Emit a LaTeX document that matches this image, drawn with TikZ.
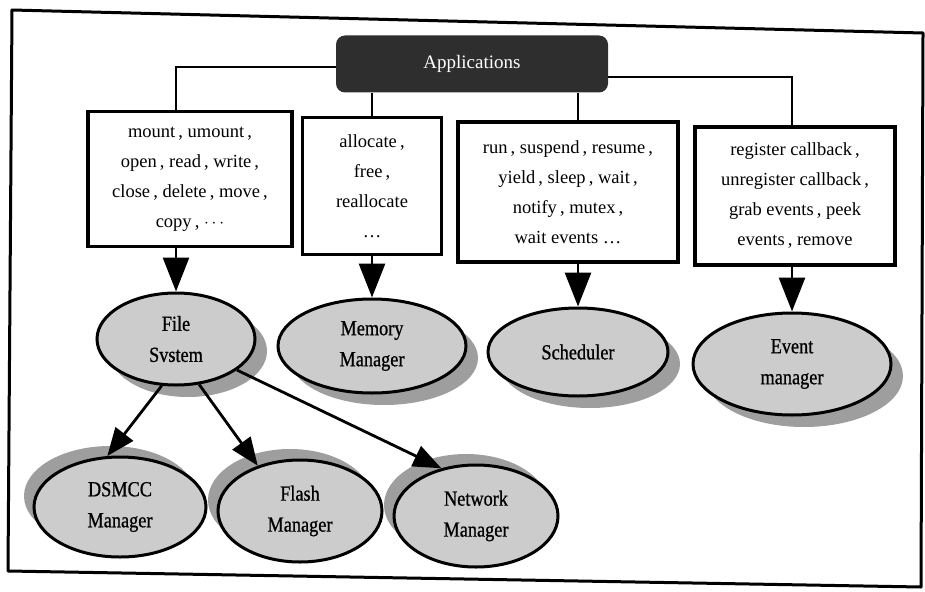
\documentclass[tikz,border=0pt]{standalone}
\usepackage{fontspec}
\setmainfont{Liberation Serif}
\newfontfamily\ovalfont[FakeStretch=0.85,FakeBold=0.7]{Liberation Serif}
\usetikzlibrary{shapes.geometric,arrows.meta,shadows}

\begin{document}
\begin{tikzpicture}[x=1pt,y=-1pt,
  conn/.style={line width=2.8pt},
  arr/.style={line width=2.8pt,-{Triangle[width=26pt,length=34pt]}},
  arrs/.style={line width=2.8pt,-{Triangle[width=22pt,length=28pt]}},
  appbox/.style={rounded corners=9pt,fill=black!82,text=white,
    minimum width=272pt,minimum height=57pt,inner sep=0pt,
    font=\fontsize{19}{22}\selectfont},
  opbox/.style={draw,line width=3.4pt,fill=white,align=center,inner sep=0pt,
    font=\fontsize{18.5}{30}\selectfont},
  oval/.style={ellipse,draw,line width=3pt,fill=black!20,inner sep=0pt,
    align=center,font=\ovalfont\fontsize{21.5}{31}\selectfont},
  shadowdown/.style={drop shadow={shadow xshift=12pt,shadow yshift=-12pt,
    fill=black!38,opacity=1}},
  shadowup/.style={drop shadow={shadow xshift=-10pt,shadow yshift=11pt,
    fill=black!38,opacity=1}},
  framestyle/.style={line width=3pt,line join=round}
]
\useasboundingbox (0,0) rectangle (925,591);

% outer frame
\coordinate (f1) at (12,10);
\coordinate (f2) at (923,33);
\coordinate (f3) at (921,587);
\coordinate (f4) at (8,571);
\draw[framestyle] (f1) -- (f2) -- (f3) -- (f4) -- cycle;

% top application node
\node[appbox] (app) at (472,64) {Applications};

% interface boxes
\node[opbox,minimum width=204pt,minimum height=135pt] (b1) at (190,179)
  {mount\,, umount\,,\\open\,, read\,, write\,,\\close\,, delete\,, move\,,\\copy\,, $\cdots$};
\node[opbox,minimum width=139pt,minimum height=137pt] (b2) at (372,186)
  {allocate\,,\\free\,,\\reallocate\\\dots};
\node[opbox,minimum width=220pt,minimum height=140pt] (b3) at (568,192)
  {run\,, suspend\,, resume\,,\\yield\,, sleep\,, wait\,,\\notify\,, mutex\,,\\wait events \dots};
\node[opbox,minimum width=200pt,minimum height=138pt] (b4) at (795,196)
  {register callback\,,\\unregister callback\,,\\grab events\,, peek\\events\,, remove};

% service modules
\node[oval,shadowdown,minimum width=158pt,minimum height=92pt] (fs) at (176,339) {File\\Svstem};
\node[oval,shadowdown,minimum width=188pt,minimum height=94pt] (mem) at (372,346) {Memory\\Manager};
\node[oval,shadowdown,minimum width=180pt,minimum height=88pt] (sch) at (578,352) {Scheduler};
\node[oval,shadowdown,minimum width=198pt,minimum height=102pt] (ev) at (792,364) {Event\\manager};

% file system back ends
\node[oval,shadowup,minimum width=172pt,minimum height=100pt] (dsm) at (120,507) {DSMCC\\Manager};
\node[oval,shadowup,minimum width=164pt,minimum height=102pt] (fl) at (300,511) {Flash\\Manager};
\node[oval,shadowup,minimum width=164pt,minimum height=102pt] (net) at (476,516) {Network\\Manager};

% bus from applications to the interface boxes
\draw[conn] ([yshift=-3pt]app.west) -| (fs |- b1.north);
\draw[conn] ([yshift=-13pt]app.east) -| (ev |- b4.north);
\draw[conn] (app.south -| mem) -- (mem |- b2.north);
\draw[conn] (app.south -| sch) -- (sch |- b3.north);

% interfaces to modules
\draw[arr] (fs |- b1.south) -- (fs.north);
\draw[arr] (mem |- b2.south) -- (mem.north);
\draw[arr] (sch |- b3.south) -- (sch.north);
\draw[arr] (ev |- b4.south) -- (ev.north);

% file system to its back ends
\draw[arrs] (fs.-107) -- (dsm.104);
\draw[arrs] (fs.-63) -- (fl.133);
\draw[arrs] (fs.-27) -- (net.126);
\end{tikzpicture}
\end{document}
